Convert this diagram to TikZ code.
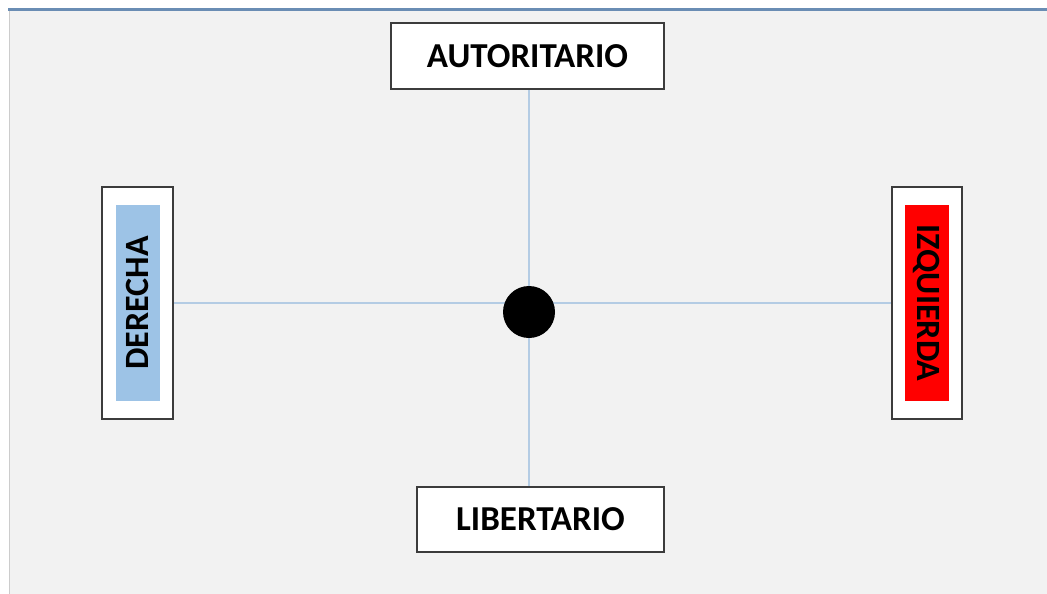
\documentclass[tikz,border=0pt]{standalone}
\usepackage{fontspec}
\setmainfont{Carlito}
\usetikzlibrary{backgrounds}

\definecolor{pagegray}{HTML}{F2F2F2}
\definecolor{rulecol}{HTML}{6A8DB4}
\definecolor{axiscol}{HTML}{B4CCE4}
\definecolor{dercol}{HTML}{9DC3E6}
\definecolor{boxline}{HTML}{3C3C3C}

\tikzset{
    poslabel/.style={draw=boxline, line width=2pt, fill=white, inner sep=0pt,
        font=\fontsize{35}{40}\selectfont\bfseries},
    sidefill/.style={inner sep=0pt, minimum width=196pt, minimum height=44pt,
        font=\fontsize{34}{40}\selectfont\bfseries},
    axis/.style={axiscol, line width=1.5pt}
}

\begin{document}
\begin{tikzpicture}[x=1pt, y=-1pt]
        \useasboundingbox (0, 0) rectangle (1047, 594);

        \node[poslabel, minimum width=273pt, minimum height=66pt] (aut) at (527.5, 56) {AUTORITARIO};
        \node[poslabel, minimum width=247pt, minimum height=65pt] (lib) at (540.5, 519.5) {LIBERTARIO};
        \node[poslabel, minimum width=71pt, minimum height=232pt] (der) at (137.5, 303) {};
        \node[poslabel, minimum width=70pt, minimum height=232pt] (izq) at (927, 303) {};
        \node[sidefill, fill=dercol, rotate=90] (dertxt) at (der.center) {DERECHA};
        \node[sidefill, fill=red, rotate=-90] (izqtxt) at (izq.center) {IZQUIERDA};
        \node[circle, fill=black, minimum size=52pt, inner sep=0pt] (dot) at (529, 312) {};

        \begin{pgfonlayer}{background}
        \fill[pagegray] (10, 11) rectangle (1047, 594);
        \draw[rulecol, line width=3pt] (8, 9.5) -- (1047, 9.5);
        \draw[black!20, line width=1pt] (9.5, 11) -- (9.5, 594);
        \draw[axis] (aut.south -| dot) -- (lib.north -| dot);
        \draw[axis] (der.east) -- (izq.west);
        \end{pgfonlayer}
\end{tikzpicture}
\end{document}
